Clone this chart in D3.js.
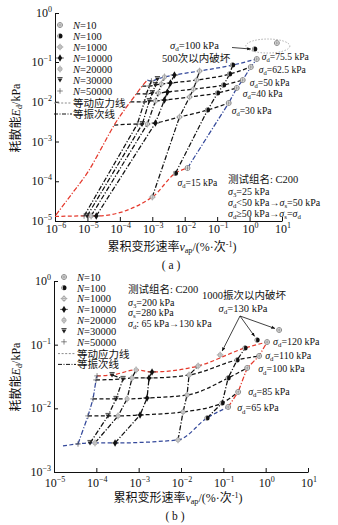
<!DOCTYPE html>
<html><head><meta charset="utf-8">
<script src="https://cdn.jsdelivr.net/npm/d3@7"></script>
<style>
body{margin:0;background:#fff}
svg{display:block}
text{font-family:"Liberation Serif","Times New Roman","Noto Sans CJK SC",serif;fill:#111}
</style>
</head><body>
<svg id="c" width="338" height="525"></svg>
<script>
// ---------------- DATA ----------------
const cycles = [50000, 30000, 20000, 10000, 1000, 100, 10];
const legendCycles = [10, 100, 1000, 10000, 20000, 30000, 50000];

// Panel (a)
const stressA = [15, 30, 40, 50, 62.5, 75.5];
const rateA = [
  [7.9e-6, 9.8e-6, 1.3e-5, 1.87e-5, 1.0e-3, 5.2e-3, 1.22e-2],
  [3.46e-4, 4.93e-4, 7.05e-4, 1.25e-3, 6.9e-3, 0.0508, 0.227],
  [5.69e-4, 8.1e-4, 1.25e-3, 2.37e-3, 0.0141, 0.1035, 0.402],
  [6.56e-4, 1.0e-3, 1.55e-3, 2.93e-3, 0.0187, 0.159, 0.615],
  [8.1e-4, 1.25e-3, 1.91e-3, 3.63e-3, 0.0232, 0.244, 1.09],
  [9.4e-4, 1.44e-3, 2.37e-3, 4.83e-3, 0.0287, 0.302, 1.67]
];
const energyA = [
  [1.34e-5, 1.34e-5, 1.34e-5, 1.34e-5, 4.0e-5, 1.6e-4, 2.15e-4],
  [2.75e-3, 2.75e-3, 2.75e-3, 2.92e-3, 4.13e-3, 6.19e-3, 9.3e-3],
  [9.86e-3, 0.01045, 0.01045, 0.01107, 0.01316, 0.0166, 0.0222],
  [0.01567, 0.0166, 0.0166, 0.0176, 0.0209, 0.0264, 0.0352],
  [0.0249, 0.0264, 0.028, 0.0296, 0.0352, 0.0499, 0.0748],
  [0.0333, 0.0373, 0.042, 0.0471, 0.0594, 0.084, 0.115]
];
const startRateA = [1.0e-6, 6.7e-5, 2.1e-4, 3.2e-4, 4.9e-4, 7.0e-4];
const startEnergyA = [1.3e-5, 2.6e-3, 9.9e-3, 0.0157, 0.0249, 0.0352];
const envRateA = [1.07e-6, 3.1e-6, 1.13e-5, 3.06e-5, 6.7e-5, 2.1e-4, 3.2e-4, 4.9e-4, 7.0e-4];
const envEnergyA = [1.42e-5, 4.5e-5, 1.92e-4, 8.2e-4, 2.6e-3, 9.9e-3, 0.0157, 0.0249, 0.0352];
const failCyclesA = [100, 10];
const failRateA = [1.45, 6.95];
const failEnergyA = [0.184, 0.244];

// Panel (b)
const stressB = [65, 85, 100, 110, 120];
const rateB = [
  [3.69e-5, 7.1e-5, 9.3e-5, 2.77e-4, 8.5e-3, 0.0414, 0.130],
  [6.37e-5, 1.89e-4, 3.26e-4, 1.08e-3, 0.0112, 0.0938, 0.224],
  [8.36e-5, 2.92e-4, 5.32e-4, 1.58e-3, 0.0139, 0.130, 0.366],
  [9.84e-5, 4.28e-4, 6.98e-4, 1.76e-3, 0.0155, 0.212, 0.701],
  [1.04e-4, 2.35e-4, 8.69e-4, 2.07e-3, 0.0254, 0.327, 1.08]
];
const energyB = [
  [2.76e-3, 2.86e-3, 2.86e-3, 2.86e-3, 3.19e-3, 7.07e-3, 0.0105],
  [7.6e-3, 7.6e-3, 7.6e-3, 7.87e-3, 8.78e-3, 0.01216, 0.0181],
  [0.01406, 0.01406, 0.01406, 0.01456, 0.0162, 0.030, 0.0431],
  [0.0279, 0.029, 0.030, 0.030, 0.0334, 0.0575, 0.0665],
  [0.0323, 0.0334, 0.0401, 0.0373, 0.0463, 0.0887, 0.110]
];
const startRateB = [1.63e-5, 6.37e-5, 8.36e-5, 9.84e-5, 1.04e-4];
const startEnergyB = [2.57e-3, 7.6e-3, 0.01406, 0.0279, 0.0323];
const failCyclesB = [1000, 100, 10];
const failRateB = [0.084, 0.63, 2.08];
const failEnergyB = [0.0689, 0.1186, 0.170];

const xExpA = [-6, -5, -4, -3, -2, -1, 0, 1];
const yExpA = [-5, -4, -3, -2, -1, 0];
const xExpB = [-5, -4, -3, -2, -1, 0, 1];
const yExpB = [-3, -2, -1, 0];

// ---------------- DRAW ----------------
const RED = '#e5392c', BLUE = '#34499b', GRAY = '#8a8a8a';
const svg = d3.select('#c');
const defs = svg.append('defs');
defs.append('marker').attr('id', 'ah').attr('viewBox', '0 0 10 10').attr('refX', 9).attr('refY', 5)
  .attr('markerWidth', 5).attr('markerHeight', 5).attr('orient', 'auto')
  .append('path').attr('d', 'M0,1L10,5L0,9Z').attr('fill', '#111');

function rich(t, parts, fs) {
  let shift = 0;
  parts.forEach(p => {
    const [s, k] = typeof p === 'string' ? [p, ''] : p;
    const target = k.includes('sub') ? 2.4 : k.includes('sup') ? -4 : 0;
    const ts = t.append('tspan').text(s).attr('dy', target - shift);
    shift = target;
    if (target !== 0) ts.attr('font-size', (fs * 0.68) + 'px');
    if (k.includes('i')) ts.attr('font-style', 'italic');
  });
  return t;
}
function txt(g, x, y, parts, fs, anchor) {
  const t = g.append('text').attr('x', x).attr('y', y).attr('font-size', fs + 'px')
    .attr('text-anchor', anchor || 'start');
  return rich(t, parts, fs);
}
function sigma(sub) { return [['σ', 'i'], [sub, 'sub']]; }

function marker(g, N, x, y) {
  const s = g.append('g').attr('transform', `translate(${x},${y})`);
  const st = (sel, c, w) => sel.attr('stroke', c).attr('stroke-width', w).attr('fill', 'none');
  switch (N) {
    case 10:
      s.append('circle').attr('r', 2.5).attr('fill', '#fff').attr('stroke', '#666').attr('stroke-width', 0.7);
      st(s.append('path').attr('d', 'M-2.5,0H2.5M0,-2.5V2.5'), '#666', 0.6); break;
    case 100:
      s.append('circle').attr('r', 2.5).attr('fill', '#111');
      s.append('path').attr('d', 'M0,-2.5A2.5,2.5 0 0 0 0,2.5A1.1,2.5 0 0 1 0,-2.5Z').attr('fill', '#bbb'); break;
    case 1000:
      s.append('circle').attr('r', 2.1).attr('fill', '#fff').attr('stroke', '#888').attr('stroke-width', 0.7);
      st(s.append('path').attr('d', 'M-3.4,0H3.4M0,-3.4V3.4'), '#888', 0.6); break;
    case 10000:
      st(s.append('path').attr('d', 'M-3.8,0H3.8'), '#222', 0.8);
      s.append('path').attr('d', d3.symbol(d3.symbolDiamond, 16)()).attr('fill', '#111'); break;
    case 20000:
      s.append('circle').attr('r', 2.1).attr('fill', '#fff').attr('stroke', '#888').attr('stroke-width', 0.7);
      st(s.append('path').attr('d', 'M0,-3.6V3.6M-2.1,0H2.1'), '#888', 0.6); break;
    case 30000:
      st(s.append('path').attr('d', 'M-2.6,-2.5H2.6'), '#222', 0.8);
      s.append('path').attr('d', 'M-2.4,-1.5L2.4,-1.5L0,2.6Z').attr('fill', '#222'); break;
    default:
      st(s.append('path').attr('d', 'M-2.8,0H2.8M0,-2.8V2.8'), '#555', 0.7);
  }
}

const DASH = '4,2.4', DASHDOT = '5,1.8,1.2,1.8';
function drawPath(g, pts, color, dash, curve) {
  const line = d3.line().x(d => d[0]).y(d => d[1]).curve(curve || d3.curveLinear);
  g.append('path').attr('d', line(pts)).attr('fill', 'none').attr('stroke', color)
    .attr('stroke-width', 1.25).attr('stroke-dasharray', dash);
}

function pow10(g, x, y, e, anchor) {
  const t = g.append('text').attr('x', x).attr('y', y).attr('font-size', '12px').attr('text-anchor', anchor);
  t.append('tspan').text('10');
  t.append('tspan').attr('dy', -5).attr('font-size', '8px').text(e < 0 ? '−' + (-e) : String(e));
}

function drawPanel(cfg) {
  const g = svg.append('g');
  const { x, y } = cfg;
  const xa = d3.axisBottom(x).tickValues(cfg.xExp.map(e => Math.pow(10, e))).tickSize(-4).tickSizeOuter(0).tickFormat('');
  const ya = d3.axisLeft(y).tickValues(cfg.yExp.map(e => Math.pow(10, e))).tickSize(-4).tickSizeOuter(0).tickFormat('');
  const x0 = x.range()[0], yb = y.range()[0];
  g.append('g').attr('transform', `translate(0,${yb})`).call(xa).call(s => s.selectAll('path,line').attr('stroke', '#111'));
  g.append('g').attr('transform', `translate(${x0},0)`).call(ya).call(s => s.selectAll('path,line').attr('stroke', '#111'));
  cfg.xExp.forEach(e => pow10(g, x(Math.pow(10, e)) + 1, yb + cfg.xLabOff, e, 'middle'));
  cfg.yExp.forEach(e => pow10(g, x0 - 3, y(Math.pow(10, e)) + 4, e, 'end'));

  // iso-stress lines
  cfg.stress.forEach((s, i) => {
    const pts = [[x(cfg.startRate[i]), y(cfg.startEnergy[i])]];
    for (let j = 0; j < cycles.length; j++) pts.push([x(cfg.rate[i][j]), y(cfg.energy[i][j])]);
    pts.sort((a, b) => a[0] - b[0]);
    const col = i === cfg.redStress ? RED : i === cfg.blueStress ? BLUE : '#111';
    drawPath(g, pts, col, DASH, d3.curveMonotoneX);
  });
  // iso-cycle lines
  cycles.forEach((N, j) => {
    const pts = cfg.stress.map((s, i) => [x(cfg.rate[i][j]), y(cfg.energy[i][j])]);
    const col = N === cfg.redCycle ? RED : N === cfg.blueCycle ? BLUE : '#111';
    drawPath(g, pts, col, DASHDOT);
  });
  if (cfg.envRate) {
    drawPath(g, cfg.envRate.map((v, k) => [x(v), y(cfg.envEnergy[k])]), RED, DASHDOT, d3.curveMonotoneX);
  }
  // markers
  cfg.stress.forEach((s, i) => cycles.forEach((N, j) => marker(g, N, x(cfg.rate[i][j]), y(cfg.energy[i][j]))));
  cfg.failCycles.forEach((N, k) => marker(g, N, x(cfg.failRate[k]), y(cfg.failEnergy[k])));

  // legend
  const L = cfg.legend;
  legendCycles.forEach((N, k) => {
    const yy = L.y0 + k * L.dy;
    marker(g, N, L.mx, yy);
    txt(g, L.tx, yy + 3.8, [['N', 'i'], '=' + N], 10.5);
  });
  const y7 = L.y0 + 7 * L.dy + 1, y8 = L.y0 + 8 * L.dy + 1;
  g.append('line').attr('x1', L.mx - 6).attr('x2', L.mx + 12).attr('y1', y7).attr('y2', y7)
    .attr('stroke', GRAY).attr('stroke-width', 1).attr('stroke-dasharray', '2,1.6');
  txt(g, L.tx, y7 + 4, ['等动应力线'], 10.5);
  g.append('line').attr('x1', L.mx - 6).attr('x2', L.mx + 12).attr('y1', y8).attr('y2', y8)
    .attr('stroke', '#111').attr('stroke-width', 1).attr('stroke-dasharray', '4,1.5,1,1.5');
  txt(g, L.tx, y8 + 4, ['等振次线'], 10.5);

  // axis titles
  g.append('text').attr('transform', `translate(${cfg.yTitle[0]},${cfg.yTitle[1]}) rotate(-90)`)
    .attr('text-anchor', 'middle').attr('font-size', '12px')
    .call(t => rich(t, ['耗散能', ['E', 'i'], ['d', 'sub'], '/kPa'], 12));
  txt(g, cfg.xTitle[0], cfg.xTitle[1], ['累积变形速率', ['v', 'i'], ['ap', 'sub'], '/(%·次', ['-1', 'sup'], ')'], 12, 'middle');
  txt(g, cfg.tag[0], cfg.tag[1], [cfg.tag[2]], 11.5, 'middle');

  // stress labels, anchored to the N=10 end point of each line
  const last = cycles.length - 1;
  cfg.stress.forEach((s, i) => {
    const o = cfg.labOff[i];
    txt(g, x(cfg.rate[i][last]) + o[0], y(cfg.energy[i][last]) + o[1], [...sigma('d'), '=' + s + ' kPa'], cfg.labFs);
  });
  return g;
}

// ---- panel (a)
const xA = d3.scaleLog().domain([1e-6, 10]).range([55, 282]);
const yA = d3.scaleLog().domain([1e-5, 1e-1, 1]).range([221, 62, 13]);
const gA = drawPanel({
  x: xA, y: yA, xExp: xExpA, yExp: yExpA, xLabOff: 12,
  stress: stressA, rate: rateA, energy: energyA, startRate: startRateA, startEnergy: startEnergyA,
  redStress: 0, blueStress: 5, redCycle: null, blueCycle: 10,
  envRate: envRateA, envEnergy: envEnergyA,
  failCycles: failCyclesA, failRate: failRateA, failEnergy: failEnergyA,
  legend: { y0: 25, dy: 11, mx: 60, tx: 73 },
  yTitle: [20, 118], xTitle: [172, 251], tag: [171, 269, '( a )'],
  labFs: 9.6,
  labOff: [[-10, 18], [3, 10.5], [6, 9], [7, 5.5], [8, 6], [5, 1]]
});
{
  const px = xA(failRateA[0]), py = yA(failEnergyA[0]);
  const qx = xA(failRateA[1]), qy = yA(failEnergyA[1]);
  gA.append('ellipse').attr('cx', (px + qx) / 2 + 2).attr('cy', (py + qy) / 2).attr('rx', 22).attr('ry', 7)
    .attr('fill', 'none').attr('stroke', '#999').attr('stroke-width', 0.8).attr('stroke-dasharray', '1.5,1.5');
  gA.append('line').attr('x1', 232).attr('y1', 47.5).attr('x2', px - 4).attr('y2', py)
    .attr('stroke', '#111').attr('stroke-width', 0.8).attr('marker-end', 'url(#ah)');
  txt(gA, 170, 49, [...sigma('d'), '=100 kPa'], 10.5);
  txt(gA, 162, 61.5, ['500次以内破坏'], 10.5);
  txt(gA, 228, 183, ['测试组名: C200'], 10.5);
  txt(gA, 228, 195, [...sigma('3'), '=25 kPa'], 10);
  txt(gA, 228, 206, [...sigma('d'), '<50 kPa→', ...sigma('s'), '=50 kPa'], 10);
  txt(gA, 228, 216.5, [...sigma('d'), '≥50 kPa→', ...sigma('s'), '=', ...sigma('d')], 10);
}

// ---- panel (b)
const xB = d3.scaleLog().domain([1e-5, 10]).range([54, 308]);
const yB = d3.scaleLog().domain([1e-3, 1]).range([472, 281]);
const gB = drawPanel({
  x: xB, y: yB, xExp: xExpB, yExp: yExpB, xLabOff: 14.5,
  stress: stressB, rate: rateB, energy: energyB, startRate: startRateB, startEnergy: startEnergyB,
  redStress: 4, blueStress: 0, redCycle: 10, blueCycle: 50000,
  envRate: null,
  failCycles: failCyclesB, failRate: failRateB, failEnergy: failEnergyB,
  legend: { y0: 277, dy: 10.8, mx: 64, tx: 77 },
  yTitle: [20, 377], xTitle: [178, 502], tag: [175, 520, '( b )'],
  labFs: 10,
  labOff: [[9, 4.5], [10, 3], [11, 4.5], [6, 3], [6, 3]]
});
{
  const ox = 240, oy = 316;
  failCyclesB.forEach((N, k) => {
    const px = xB(failRateB[k]), py = yB(failEnergyB[k]);
    const dx = px - ox, dy = py - oy, d = Math.hypot(dx, dy);
    gB.append('line').attr('x1', ox).attr('y1', oy).attr('x2', px - dx / d * 4.5).attr('y2', py - dy / d * 4.5)
      .attr('stroke', '#111').attr('stroke-width', 0.8).attr('marker-end', 'url(#ah)');
  });
  txt(gB, 244, 299, ['1000振次以内破坏'], 10.5, 'middle');
  txt(gB, 243, 312, [...sigma('d'), '=130 kPa'], 10.5, 'middle');
  txt(gB, 128, 293, ['测试组名: C200'], 10.5);
  txt(gB, 128, 305.5, [...sigma('3'), '=200 kPa'], 10);
  txt(gB, 128, 316, [...sigma('s'), '=280 kPa'], 10);
  txt(gB, 128, 327, [...sigma('d'), ': 65 kPa→130 kPa'], 10);
}
</script>
</body></html>
